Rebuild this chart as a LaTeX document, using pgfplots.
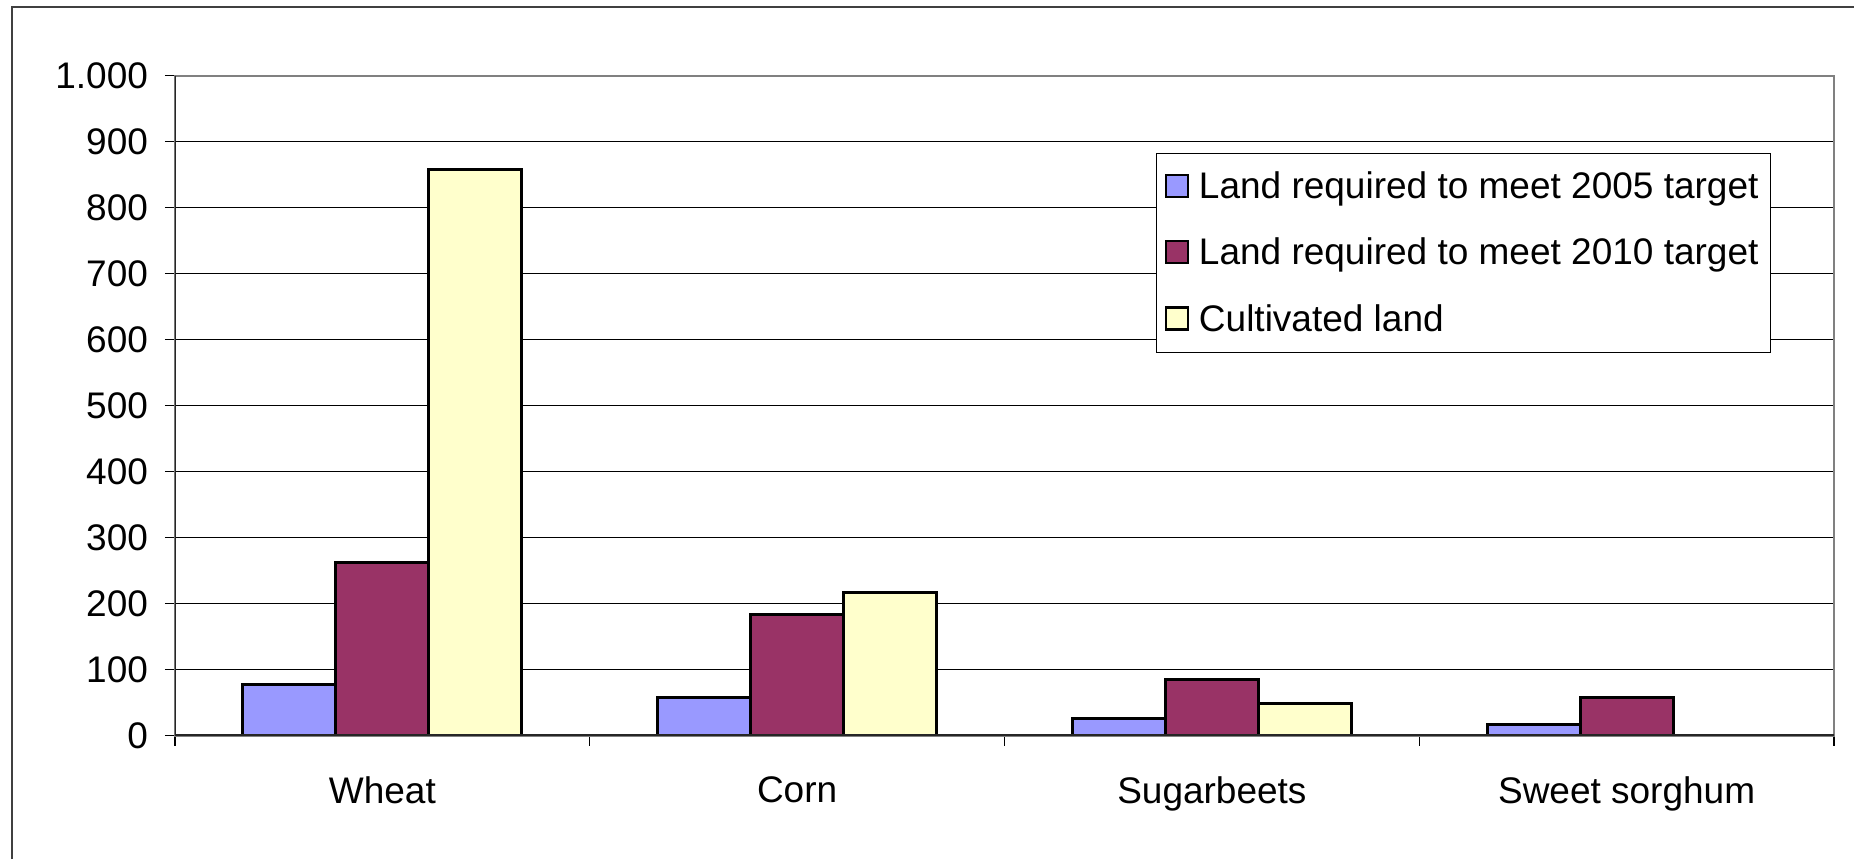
\documentclass[border=0pt]{standalone}
\usepackage{pgfplots}
\pgfplotsset{compat=1.18}
\usepackage{fontspec}
\setmainfont{Liberation Sans}
\definecolor{cBlue}{HTML}{9999FF}
\definecolor{cRed}{HTML}{993366}
\definecolor{cYel}{HTML}{FFFFCC}
\begin{document}
\begin{tikzpicture}
\path[use as bounding box] (0,0) rectangle (927pt,429.5pt);
\draw[line width=1.2pt, black!75] (6pt,0) -- (6pt,426pt) -- (927pt,426pt);
\begin{axis}[
  at={(87.5pt,61.75pt)}, anchor=south west,
  scale only axis, width=829.5pt, height=329.9pt,
  ymin=0, ymax=1000, xmin=-0.5, xmax=3.5,
  ybar=0pt, bar width=46.5pt,
  ytick={0,100,...,1000},
  scaled y ticks=false,
  /pgf/number format/1000 sep={.},
  /pgf/number format/assume math mode=true,
  xtick={0,1,2,3},
  xticklabels={Wheat,Corn,Sugarbeets,Sweet sorghum},
  minor xtick={-0.5,0.5,1.5,2.5,3.5},
  major x tick style={draw=none},
  tick align=outside,
  xtick pos=bottom, ytick pos=left,
  major tick length=5pt, minor tick length=5pt,
  tick style={black, line width=0.6pt},
  ymajorgrids, grid style={black, line width=0.5pt},
  axis line style={draw=gray, line width=1.1pt},
  ticklabel style={font=\fontsize{18.5}{22}\selectfont},
  yticklabel style={xshift=-5pt},
  xticklabel style={yshift=-12pt},
  legend style={at={(0.962,0.883)}, anchor=north east, draw=black, line width=0.5pt,
    font=\fontsize{18.5}{22}\selectfont, row sep=14.3pt, inner xsep=4pt, inner ysep=7pt,
    cells={anchor=west}},
  legend image code/.code={\draw[#1, line width=1.1pt] (0pt,-5.2pt) rectangle (11pt,5.8pt);},
]
\addplot[fill=cBlue, draw=black, line width=1.5pt] coordinates {(0,78) (1,58) (2,26) (3,16)};
\addplot[fill=cRed, draw=black, line width=1.5pt] coordinates {(0,262) (1,184) (2,85) (3,58)};
\addplot[fill=cYel, draw=black, line width=1.5pt] coordinates {(0,858) (1,216) (2,48)};
\legend{\hspace*{3pt}Land required to meet 2005 target, \hspace*{3pt}Land required to meet 2010 target, \hspace*{3pt}Cultivated land}
\draw[black!85, line width=1.1pt] (rel axis cs:0,1) -- (rel axis cs:0,0) -- (rel axis cs:1,0);
\end{axis}
\end{tikzpicture}
\end{document}
